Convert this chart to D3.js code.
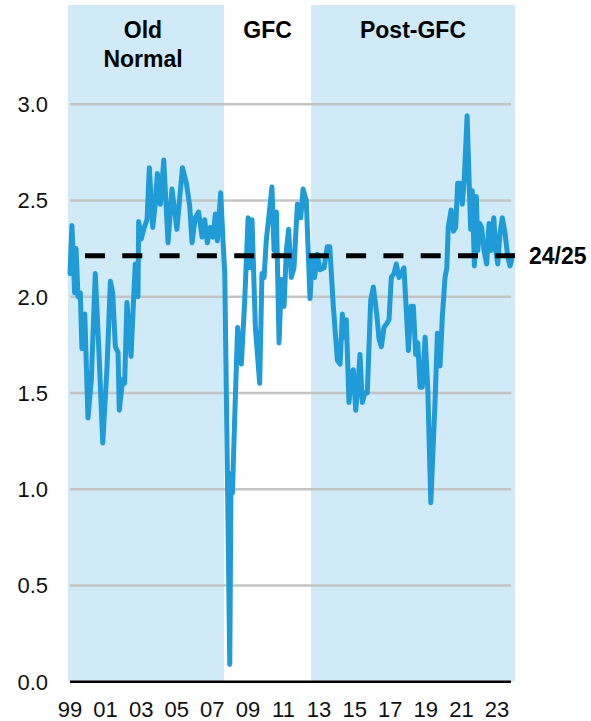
<!DOCTYPE html>
<html>
<head>
<meta charset="utf-8">
<script src="https://cdn.jsdelivr.net/npm/d3@7"></script>
<style>
  html, body { margin: 0; padding: 0; background: #fff; }
  svg { display: block; font-family: "Liberation Sans", Arial, sans-serif; }
</style>
</head>
<body>
<svg id="chart"></svg>
<script>
// decimal year of each reading, and the value at that point
const years = [
  1999.00, 1999.11, 1999.26, 1999.34, 1999.45, 1999.58, 1999.67, 1999.83, 2000.01, 2000.20,
  2000.42, 2000.61, 2000.84, 2001.08, 2001.27, 2001.40, 2001.55, 2001.70, 2001.77, 2001.96,
  2002.07, 2002.20, 2002.43, 2002.58, 2002.67, 2002.82, 2002.86, 2003.01, 2003.14, 2003.33,
  2003.46, 2003.65, 2003.79, 2003.91, 2004.08, 2004.27, 2004.51, 2004.73, 2005.01, 2005.32,
  2005.54, 2005.73, 2005.86, 2006.04, 2006.23, 2006.42, 2006.57, 2006.72, 2006.89, 2007.04,
  2007.17, 2007.28, 2007.47, 2007.60, 2007.70, 2007.83, 2007.98, 2008.05, 2008.13, 2008.25,
  2008.42, 2008.63, 2008.82, 2009.01, 2009.10, 2009.23, 2009.42, 2009.66, 2009.79, 2009.91,
  2010.03, 2010.17, 2010.35, 2010.47, 2010.60, 2010.75, 2010.88, 2011.03, 2011.16, 2011.29,
  2011.44, 2011.59, 2011.78, 2011.97, 2012.10, 2012.28, 2012.49, 2012.62, 2012.75, 2012.90,
  2013.05, 2013.28, 2013.46, 2013.60, 2013.80, 2014.03, 2014.18, 2014.31, 2014.40, 2014.53,
  2014.68, 2014.81, 2014.92, 2015.06, 2015.19, 2015.30, 2015.43, 2015.57, 2015.71, 2015.90,
  2016.05, 2016.24, 2016.37, 2016.50, 2016.65, 2016.80, 2016.93, 2017.06, 2017.21, 2017.34,
  2017.49, 2017.62, 2017.77, 2017.89, 2018.02, 2018.17, 2018.30, 2018.43, 2018.55, 2018.67,
  2018.80, 2018.96, 2019.11, 2019.28, 2019.52, 2019.65, 2019.80, 2019.93, 2020.08, 2020.18,
  2020.26, 2020.42, 2020.55, 2020.68, 2020.79, 2020.92, 2021.05, 2021.16, 2021.32, 2021.45,
  2021.52, 2021.61, 2021.73, 2021.84, 2021.92, 2022.03, 2022.14, 2022.27, 2022.42, 2022.55,
  2022.66, 2022.82, 2022.93, 2023.04, 2023.17, 2023.30, 2023.45, 2023.60, 2023.73, 2023.83
];
const values = [
  2.12, 2.37, 2.02, 2.25, 2.00, 2.02, 1.73, 1.91, 1.37, 1.57,
  2.12, 1.75, 1.24, 1.63, 2.08, 2.02, 1.74, 1.71, 1.41, 1.57,
  1.55, 1.97, 1.69, 2.00, 2.17, 2.00, 2.39, 2.30, 2.35, 2.40,
  2.67, 2.36, 2.48, 2.64, 2.48, 2.71, 2.28, 2.56, 2.35, 2.67,
  2.59, 2.47, 2.28, 2.41, 2.44, 2.31, 2.40, 2.28, 2.36, 2.31,
  2.43, 2.29, 2.54, 2.29, 2.12, 1.20, 0.09, 1.08, 0.98, 1.35,
  1.84, 1.65, 1.98, 2.41, 2.15, 2.40, 1.84, 1.55, 2.12, 2.10,
  2.29, 2.41, 2.57, 2.24, 2.44, 1.76, 2.09, 1.95, 2.24, 2.35,
  2.10, 2.15, 2.48, 2.41, 2.56, 2.50, 1.99, 2.21, 2.10, 2.22,
  2.14, 2.15, 2.26, 2.26, 1.95, 1.67, 1.65, 1.91, 1.79, 1.88,
  1.45, 1.60, 1.62, 1.41, 1.55, 1.70, 1.45, 1.50, 1.50, 1.98,
  2.05, 1.91, 1.78, 1.74, 1.84, 1.86, 1.88, 2.10, 2.12, 2.17,
  2.10, 2.12, 2.15, 1.95, 1.72, 1.95, 1.95, 1.70, 1.76, 1.53,
  1.53, 1.79, 1.52, 0.93, 1.46, 1.81, 1.64, 1.90, 2.10, 2.15,
  2.36, 2.45, 2.34, 2.36, 2.59, 2.59, 2.48, 2.61, 2.94, 2.55,
  2.35, 2.55, 2.16, 2.52, 2.24, 2.38, 2.36, 2.24, 2.17, 2.38,
  2.24, 2.41, 2.24, 2.17, 2.33, 2.41, 2.33, 2.21, 2.16, 2.19
];
const target = 2.213;
const targetLabel = "24/25";
const yTicks = [0, 0.5, 1, 1.5, 2, 2.5, 3];
const xTicks = [1999, 2001, 2003, 2005, 2007, 2009, 2011, 2013, 2015, 2017, 2019, 2021, 2023];
const periods = [
  { name: ["Old", "Normal"], from: 1998.89, to: 2007.66, shaded: true },
  { name: ["GFC"], from: 2007.66, to: 2012.55, shaded: false },
  { name: ["Post-GFC"], from: 2012.55, to: 2024.01, shaded: true }
];

const width = 591, height = 721;
const svg = d3.select("#chart").attr("width", width).attr("height", height);

const x = d3.scaleLinear().domain([1999, 2023]).range([70, 497]);
const y = d3.scaleLinear().domain([0, 3]).range([681.7, 104.2]);
const gridEnd = 2023.79;

// shaded periods
svg.append("g").selectAll("rect")
  .data(periods.filter(d => d.shaded))
  .join("rect")
  .attr("x", d => x(d.from))
  .attr("width", d => x(d.to) - x(d.from))
  .attr("y", 5)
  .attr("height", y(0) - 5)
  .attr("fill", "#d0eaf7");

// period titles
const titles = svg.append("g")
  .attr("font-size", 23)
  .attr("font-weight", "bold")
  .attr("text-anchor", "middle")
  .attr("fill", "#000");
periods.forEach(p => {
  const cx = p.name[0] === "Old" ? 143 : (x(p.from) + x(p.to)) / 2;
  p.name.forEach((line, i) => {
    titles.append("text").attr("x", cx).attr("y", 38 + i * 29).text(line);
  });
});

// gridlines
svg.append("g").selectAll("line")
  .data(yTicks.filter(d => d > 0))
  .join("line")
  .attr("x1", x(1999)).attr("x2", x(gridEnd))
  .attr("y1", d => y(d)).attr("y2", d => y(d))
  .attr("stroke", "#c4c4c4")
  .attr("stroke-width", 2.5);

// y tick labels
svg.append("g")
  .attr("font-size", 22)
  .attr("text-anchor", "end")
  .attr("fill", "#111")
  .selectAll("text")
  .data(yTicks)
  .join("text")
  .attr("x", 48)
  .attr("y", d => y(d) + 8)
  .text(d3.format(".1f"));

// x axis
svg.append("line")
  .attr("x1", x(1999)).attr("x2", x(gridEnd))
  .attr("y1", y(0)).attr("y2", y(0))
  .attr("stroke", "#000")
  .attr("stroke-width", 2.5);

svg.append("g")
  .attr("font-size", 22)
  .attr("text-anchor", "middle")
  .attr("fill", "#111")
  .selectAll("text")
  .data(xTicks)
  .join("text")
  .attr("x", d => x(d))
  .attr("y", 717)
  .text(d => String(d % 100).padStart(2, "0"));

// series
const points = years.map((yr, i) => [yr, values[i]]);
svg.append("path")
  .datum(points)
  .attr("fill", "none")
  .attr("stroke", "#1f9bd7")
  .attr("stroke-width", 5)
  .attr("stroke-linejoin", "round")
  .attr("stroke-linecap", "round")
  .attr("d", d3.line().x(d => x(d[0])).y(d => y(d[1])));

// 24/25 reference line
svg.append("line")
  .attr("x1", 85).attr("x2", x(2024.01))
  .attr("y1", y(target)).attr("y2", y(target))
  .attr("stroke", "#000")
  .attr("stroke-width", 5)
  .attr("stroke-dasharray", "20 17.3");

svg.append("text")
  .attr("x", 529)
  .attr("y", y(target) + 8)
  .attr("font-size", 23)
  .attr("font-weight", "bold")
  .attr("fill", "#000")
  .text(targetLabel);
</script>
</body>
</html>
